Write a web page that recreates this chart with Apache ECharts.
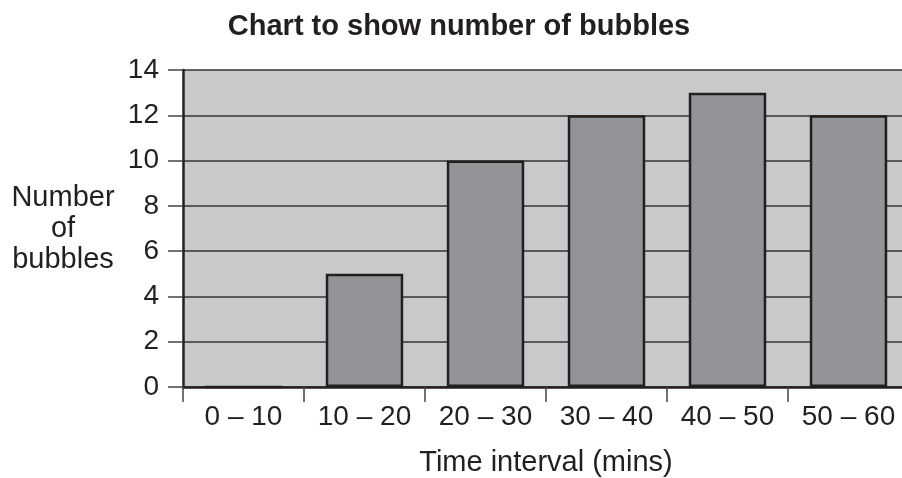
<!DOCTYPE html>
<html>
<head>
<meta charset="utf-8">
<script src="https://cdn.jsdelivr.net/npm/echarts@6/dist/echarts.min.js"></script>
<style>
  html, body { margin: 0; padding: 0; background: #fff; }
  #chart { width: 902px; height: 478px; }
</style>
</head>
<body>
<div id="chart"></div>
<script>
var categories = ['0 – 10', '10 – 20', '20 – 30', '30 – 40', '40 – 50', '50 – 60'];
var bubbles = [0, 5, 10, 12, 13, 12];
var yTicks = { min: 0, max: 14, interval: 2 };

var ink = '#231f20';
var font = '"Liberation Sans", Arial, Helvetica, sans-serif';

var myChart = echarts.init(document.getElementById('chart'));

myChart.setOption({
  animation: false,
  title: {
    text: 'Chart to show number of bubbles',
    left: 454,
    top: 7,
    textAlign: 'center',
    textStyle: { fontFamily: font, fontSize: 29, fontWeight: 'bold', color: ink }
  },
  grid: {
    left: 183,
    top: 70,
    width: 726,
    height: 317,
    outerBoundsMode: 'none',
    containLabel: false,
    show: true,
    backgroundColor: '#c8c9cb',
    borderWidth: 0
  },
  xAxis: {
    type: 'category',
    data: categories,
    name: 'Time interval (mins)',
    nameLocation: 'middle',
    nameGap: 61,
    nameTextStyle: { fontFamily: font, fontSize: 29, color: ink },
    axisLine: { lineStyle: { color: ink, width: 2.5 } },
    axisTick: { show: true, length: 15, lineStyle: { color: '#444', width: 1.5 } },
    axisLabel: { fontFamily: font, fontSize: 28, color: ink, margin: 16, interval: 0, hideOverlap: false }
  },
  yAxis: {
    type: 'value',
    min: yTicks.min,
    max: yTicks.max,
    interval: yTicks.interval,
    name: 'Number\nof\nbubbles',
    nameLocation: 'middle',
    nameRotate: 0,
    nameGap: 120,
    nameTextStyle: {
      fontFamily: font, fontSize: 29, color: ink,
      align: 'center', verticalAlign: 'middle', lineHeight: 31
    },
    axisLine: { show: true, lineStyle: { color: ink, width: 2.5 } },
    axisTick: { show: true, length: 15, lineStyle: { color: '#444', width: 1.5 } },
    axisLabel: { fontFamily: font, fontSize: 28, color: ink, margin: 24 },
    splitLine: { show: true, lineStyle: { color: '#333', width: 1.5 } }
  },
  series: [{
    type: 'bar',
    data: bubbles,
    barWidth: '64%',
    itemStyle: { color: '#939497', borderColor: ink, borderWidth: 2.5 }
  }]
});
</script>
</body>
</html>
